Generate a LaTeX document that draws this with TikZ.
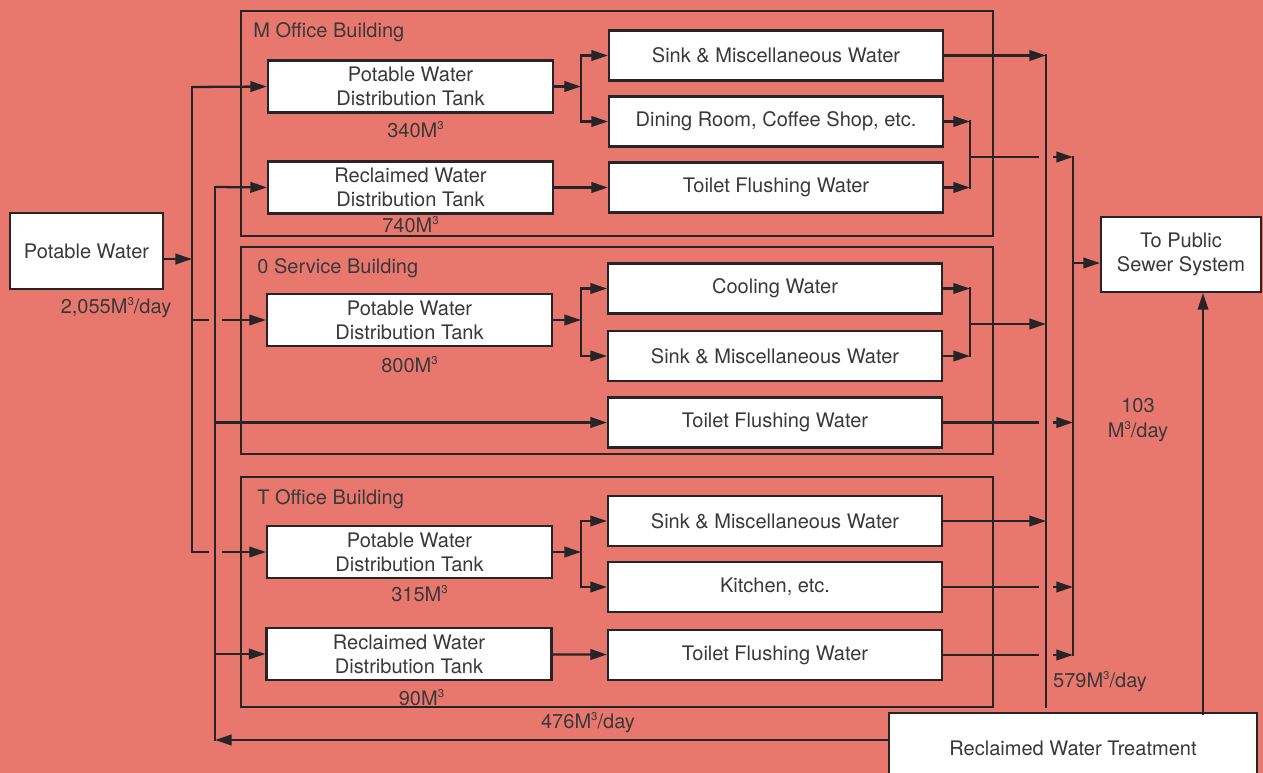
\documentclass[tikz,border=0pt]{standalone}
\usepackage{fontspec}
\setmainfont{TeX Gyre Heros}
\usepackage{tikz}
\usetikzlibrary{arrows.meta,positioning,fit}
\definecolor{sheetred} {RGB}{232,120,110}
\definecolor{inkgray}  {RGB}{38,36,38}
\definecolor{textgray} {RGB}{58,56,58}
\newcommand{\cubm}{M\raisebox{0.78ex}{\fontsize{6.5}{7}\selectfont 3}}
\tikzset{
  flowbox/.style={draw=inkgray, fill=white, line width=1.2pt, align=center,
                  font=\fontsize{11.4}{13.6}\selectfont, text=textgray,
                  inner sep=2pt, minimum width=#1},
  flowbox/.default=6.68cm,
  tankbox/.style={flowbox=5.7cm, minimum height=1.04cm},
  endbox/.style ={flowbox=6.68cm, minimum height=1.0cm},
  bldframe/.style={draw=inkgray, line width=0.7pt, inner sep=0pt},
  bldlabel/.style={anchor=west, inner sep=0pt, text=textgray,
                   font=\fontsize{11.4}{13.6}\selectfont},
  vol/.style    ={inner sep=1pt, text=textgray, align=center,
                  font=\fontsize{11.4}{14.2}\selectfont},
  pipe/.style   ={draw=inkgray, line width=1.3pt, line cap=rect},
  arr/.style    ={draw=inkgray, line width=1.3pt,
                  -{Triangle[length=9.5pt,width=6pt]}},
}

\begin{document}
\begin{tikzpicture}[x=0.02cm, y=-0.02cm]
  \fill[sheetred] (0,0) rectangle (1263,773);
  \useasboundingbox (0,0) rectangle (1263,773);

  % building outlines
  \node[bldframe, fit={(241,11) (993,236)}]  (mbld) {};
  \node[bldframe, fit={(241,247) (993,454)}] (sbld) {};
  \node[bldframe, fit={(241,477) (993,707)}] (tbld) {};
  \node[bldlabel] (mlbl) at (253,32)  {M Office Building};
  \node[bldlabel] (slbl) at (257,268) {0 Service Building};
  \node[bldlabel] (tlbl) at (257,499) {T Office Building};

  % supply side
  \node[flowbox=3.06cm, minimum height=1.52cm] (pw) at (86.5,251) {Potable Water};
  \node[vol] (pwq) at (116,308) {2,055\cubm/day};

  % M office building
  \node[tankbox] (mpt) at (410.5,86.5) {Potable Water\\Distribution Tank};
  \node[vol, below=3pt of mpt, xshift=0.1cm] (mptq) {340\cubm};
  \node[tankbox] (mrt) at (410.5,187.5) {Reclaimed Water\\Distribution Tank};
  \node[vol, below=0pt of mrt] (mrtq) {740\cubm};
  \node[endbox] (msink) at (776,55.5)  {Sink \& Miscellaneous Water};
  \node[endbox] (mdine) at (776,121.5) {Dining Room, Coffee Shop, etc.};
  \node[endbox] (mtoil) at (776,187.5) {Toilet Flushing Water};

  % 0 service building
  \node[tankbox] (spt) at (409.5,320) {Potable Water\\Distribution Tank};
  \node[vol, below=4pt of spt] (sptq) {800\cubm};
  \node[endbox] (scool) at (775,288.5) {Cooling Water};
  \node[endbox] (ssink) at (775,356)   {Sink \& Miscellaneous Water};
  \node[endbox] (stoil) at (775,422.5) {Toilet Flushing Water};

  % T office building
  \node[tankbox] (tpt) at (409.5,552) {Potable Water\\Distribution Tank};
  \node[vol, below=2.5pt of tpt, xshift=0.2cm] (tptq) {315\cubm};
  \node[tankbox] (trt) at (409,654) {Reclaimed Water\\Distribution Tank};
  \node[vol, below=3.5pt of trt, xshift=0.25cm] (trtq) {90\cubm};
  \node[endbox] (tsink) at (775,521) {Sink \& Miscellaneous Water};
  \node[endbox] (tkit)  at (775,587) {Kitchen, etc.};
  \node[endbox] (ttoil) at (775,655) {Toilet Flushing Water};

  % discharge side
  \node[flowbox=3.2cm, minimum height=1.5cm] (sewer) at (1181,254.5)
        {To Public\\Sewer System};
  \node[flowbox=7.36cm, minimum height=1.4cm] (rwt) at (1073,748)
        {Reclaimed Water Treatment};
  \node[vol] (colq)  at (1100,682)  {579\cubm/day};
  \node[vol] (sewq)  at (1138,420)  {103\\\cubm/day};
  \node[vol] (retq)  at (588,723)   {476\cubm/day};

  \coordinate (pbus)  at (192,87);   \coordinate (pwin)  at (192,259);
  \coordinate (rbus)  at (215,187);  \coordinate (rbot)  at (215,740);
  \coordinate (hopl)  at (208,0);    \coordinate (hopr)  at (222,0);
  \coordinate (split) at (581,0);    \coordinate (merge) at (970,0);
  \coordinate (mjoin) at (970,157);  \coordinate (sjoin) at (970,324);
  \coordinate (hopL)  at (1038,0);   \coordinate (hopR)  at (1053,0);
  \coordinate (col1)  at (1046,707); \coordinate (col2)  at (1073,263);
  \coordinate (riser) at (1203,715);

  % potable and reclaimed feeders
  \draw[pipe] (pbus) -- (pbus |- tpt);
  \draw[arr] (pwin -| pw.east) -- (pwin);
  \draw[arr] (pbus) -- (mpt.west);
  \draw[pipe] (pbus |- spt) -- (hopl |- spt); \draw[arr] (hopr |- spt) -- (spt.west);
  \draw[pipe] (pbus |- tpt) -- (hopl |- tpt); \draw[arr] (hopr |- tpt) -- (tpt.west);
  \draw[pipe] (rbus) -- (rbot);
  \draw[arr] (rbus) -- (mrt.west); \draw[arr] (rbus |- stoil) -- (stoil.west);
  \draw[arr] (rbus |- trt) -- (trt.west);

  % M office building
  \draw[arr] (mpt.east) -- (mpt.east -| split);
  \draw[pipe] (split |- msink) -- (split |- mdine);
  \draw[arr] (split |- msink) -- (msink.west); \draw[arr] (split |- mdine) -- (mdine.west);
  \draw[arr] (mrt) -- (mtoil);
  \draw[arr] (mdine.east) -- (mdine.east -| merge); \draw[arr] (mtoil.east) -- (mtoil.east -| merge);
  \draw[pipe] (mdine.east -| merge) -- (mtoil.east -| merge);
  \draw[pipe] (mjoin) -- (mjoin -| hopL); \draw[arr] (mjoin -| hopR) -- (mjoin -| col2);
  \draw[arr] (msink.east) -- (msink.east -| col1);

  % 0 service building
  \draw[arr] (spt.east) -- (spt.east -| split);
  \draw[pipe] (split |- scool) -- (split |- ssink);
  \draw[arr] (split |- scool) -- (scool.west); \draw[arr] (split |- ssink) -- (ssink.west);
  \draw[arr] (scool.east) -- (scool.east -| merge); \draw[arr] (ssink.east) -- (ssink.east -| merge);
  \draw[pipe] (scool.east -| merge) -- (ssink.east -| merge);
  \draw[arr] (sjoin) -- (sjoin -| col1);
  \draw[pipe] (stoil.east) -- (stoil.east -| hopL); \draw[arr] (stoil.east -| hopR) -- (stoil.east -| col2);

  % T office building
  \draw[arr] (tpt.east) -- (tpt.east -| split);
  \draw[pipe] (split |- tsink) -- (split |- tkit);
  \draw[arr] (split |- tsink) -- (tsink.west); \draw[arr] (split |- tkit) -- (tkit.west);
  \draw[arr] (trt) -- (ttoil);
  \draw[arr] (tsink.east) -- (tsink.east -| col1);
  \draw[pipe] (tkit.east) -- (tkit.east -| hopL); \draw[arr] (tkit.east -| hopR) -- (tkit.east -| col2);
  \draw[pipe] (ttoil.east) -- (ttoil.east -| hopL); \draw[arr] (ttoil.east -| hopR) -- (ttoil.east -| col2);

  % collectors, sewer and return
  \draw[pipe] (msink.east -| col1) -- (col1);
  \draw[pipe] (mjoin -| col2) -- (ttoil.east -| col2);
  \draw[arr] (col2) -- (col2 -| sewer.west);
  \draw[arr] (riser) -- (riser |- sewer.south);
  \draw[arr] (rbot -| rwt.west) -- (rbot);
\end{tikzpicture}
\end{document}
